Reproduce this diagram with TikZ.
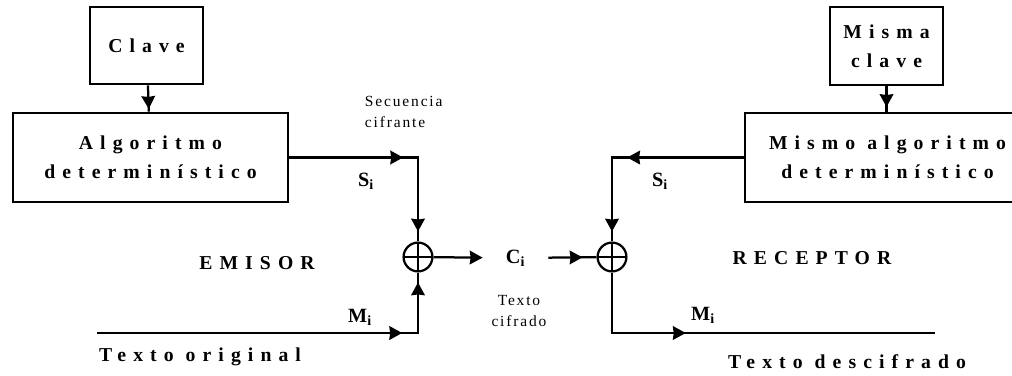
\documentclass[tikz,border=0pt]{standalone}
\usepackage{fontspec}
\setmainfont{Liberation Serif}
\newfontfamily\spaced[LetterSpace=36]{Liberation Serif}
\newfontfamily\loose[LetterSpace=12]{Liberation Serif}
\usetikzlibrary{arrows.meta, decorations.markings}

\begin{document}
\begin{tikzpicture}[
    x=0.025cm, y=-0.025cm,
    block/.style={draw, line width=1.9pt, inner sep=0pt, align=center,
                  font=\spaced\bfseries\fontsize{14}{20.5}\selectfont},
    xor/.style={circle, draw, line width=1.6pt, minimum size=0.72cm, inner sep=0pt,
                path picture={\draw[line width=1.4pt]
                    (path picture bounding box.north) -- (path picture bounding box.south)
                    (path picture bounding box.west) -- (path picture bounding box.east);}},
    wire/.style={line width=1.6pt},
    arr/.style={postaction={decorate, decoration={markings,
                mark=at position #1 with {\arrow{Stealth[length=3.2mm, width=3.4mm, inset=0.2mm]}}}}},
    side/.style={font=\spaced\bfseries\fontsize{14}{16}\selectfont},
    note/.style={font=\loose\fontsize{11}{14.5}\selectfont, align=left},
    sym/.style={font=\bfseries\Large}
]
    \useasboundingbox (0,0) rectangle (1012,375);
    \clip (0,0) rectangle (1012,375);

    % Sender side
    \node[block, minimum width=2.83cm, minimum height=1.93cm] (clave) at (146.5,45.5) {Clave};
    \node[block, minimum width=6.88cm, minimum height=2.23cm] (alg) at (150.5,157.5) {Algoritmo\\determinístico};
    \node[xor] (x1) at (418,257) {};
    \coordinate (tin) at (97,333);

    % Receiver side
    \node[block, minimum width=2.83cm, minimum height=1.95cm] (mclave) at (886.5,46) {Misma\\clave};
    \node[block, minimum width=7.13cm, minimum height=2.23cm] (malg) at (887.5,157.5) {Mismo algoritmo\\determinístico};
    \node[xor] (x2) at (612,257) {};
    \coordinate (tout) at (935,333);

    % Cipher text in the middle
    \node[sym, minimum width=1.63cm, inner sep=0pt] (ci) at (515.5,258) {C$_{\mathbf{i}}$};
    \node[note, align=center] (tcif) at (519,311) {Texto\\cifrado};

    % Labels
    \node[note, anchor=west] (sec) at (360,112) {Secuencia\\cifrante};
    \node[sym] (s1) at (366,181) {S$_{\mathbf{i}}$};
    \node[side] (emisor) at (257,263) {EMISOR};
    \node[sym] (m1) at (360,317) {M$_{\mathbf{i}}$};
    \node[side] (tori) at (200,357) {Texto original};
    \node[sym] (s2) at (660,181) {S$_{\mathbf{i}}$};
    \node[side] (recep) at (812,258) {RECEPTOR};
    \node[sym] (m2) at (703,315) {M$_{\mathbf{i}}$};
    \node[side] (tdes) at (847,362) {Texto descifrado};

    % Sender connectors
    \draw[wire, arr=0.9] (clave) -- (alg);
    \draw[wire, arr=0.535, arr=0.953] (alg.east) -| (x1);
    \draw[wire, arr=0.8, arr=0.974] (tin) -| (x1);
    \draw[wire, -{Stealth[length=3.2mm, width=3.4mm, inset=0.2mm]}] (x1) -- (ci);

    % Receiver connectors
    \draw[wire, arr=0.71] (ci) -- (x2);
    \draw[wire, arr=0.82] (mclave) -- (malg.north -| mclave);
    \draw[wire, arr=0.54, arr=0.954] (malg.west) -| (x2);
    \draw[wire, arr=0.35] (x2) |- (tout);
\end{tikzpicture}
\end{document}
